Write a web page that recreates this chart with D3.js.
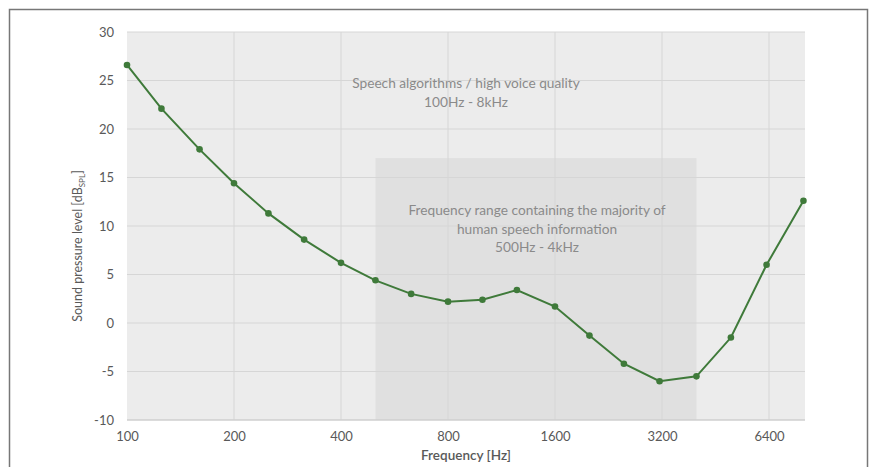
<!DOCTYPE html>
<html>
<head>
<meta charset="utf-8">
<script src="https://cdn.jsdelivr.net/npm/d3@7"></script>
<style>
  body { margin: 0; background: #fff; }
  text { font-family: Lato, "Open Sans", sans-serif; }
</style>
</head>
<body>
<script>
// third-octave frequencies and hearing threshold values
var freqs = [100, 125, 160, 200, 250, 315, 400, 500, 630, 800, 1000, 1250, 1600, 2000, 2500, 3150, 4000, 5000, 6300, 8000];
var levels = [26.6, 22.1, 17.9, 14.4, 11.3, 8.6, 6.2, 4.4, 3.0, 2.2, 2.4, 3.4, 1.7, -1.3, -4.2, -6.0, -5.5, -1.5, 6.0, 12.6];
var xTicks = [100, 200, 400, 800, 1600, 3200, 6400];
var yTicks = [-10, -5, 0, 5, 10, 15, 20, 25, 30];
var speechBand = [500, 4000, 17]; // from, to, top level

var width = 873, height = 467;
var svg = d3.select("body").append("svg")
  .attr("width", width)
  .attr("height", height);

// outer frame
svg.append("rect")
  .attr("x", 9.5).attr("y", 9.5)
  .attr("width", 858).attr("height", 470)
  .attr("fill", "none")
  .attr("stroke", "#777")
  .attr("stroke-width", 1.5);

var pLeft = 127, pRight = 805, pTop = 32, pBottom = 420;

var x = d3.scaleLog().base(2)
  .domain([100, 100 * Math.pow(2, (pRight - pLeft) / 107)])
  .range([pLeft, pRight]);
var y = d3.scaleLinear().domain([-10, 30]).range([pBottom, pTop]);

// plot background
svg.append("rect")
  .attr("x", pLeft).attr("y", pTop)
  .attr("width", pRight - pLeft).attr("height", pBottom - pTop)
  .attr("fill", "#ececec");

// speech information band
svg.append("rect")
  .attr("x", x(speechBand[0])).attr("y", y(speechBand[2]))
  .attr("width", x(speechBand[1]) - x(speechBand[0]))
  .attr("height", pBottom - y(speechBand[2]))
  .attr("fill", "#e0e0e0");

// gridlines
svg.append("g").selectAll("line")
  .data(yTicks.slice(1))
  .enter().append("line")
  .attr("x1", pLeft).attr("x2", pRight)
  .attr("y1", function(d) { return y(d); })
  .attr("y2", function(d) { return y(d); })
  .attr("stroke", "#d6d6d6").attr("stroke-width", 1);

svg.append("g").selectAll("line")
  .data(xTicks.slice(1))
  .enter().append("line")
  .attr("x1", function(d) { return x(d); })
  .attr("x2", function(d) { return x(d); })
  .attr("y1", pTop).attr("y2", pBottom)
  .attr("stroke", "#d6d6d6").attr("stroke-width", 1);

// bottom axis line
svg.append("line")
  .attr("x1", pLeft).attr("x2", pRight)
  .attr("y1", pBottom).attr("y2", pBottom)
  .attr("stroke", "#cfcfcf").attr("stroke-width", 1.5);

// axes
var xAxis = svg.append("g")
  .attr("transform", "translate(0," + pBottom + ")")
  .call(d3.axisBottom(x).tickValues(xTicks).tickSize(0).tickPadding(12).tickFormat(String));
var yAxis = svg.append("g")
  .attr("transform", "translate(" + pLeft + ",0)")
  .call(d3.axisLeft(y).tickValues(yTicks).tickSize(0).tickPadding(13).tickFormat(String));
[xAxis, yAxis].forEach(function(a) {
  a.select(".domain").remove();
  a.selectAll("text")
    .attr("fill", "#595959")
    .style("font-size", "13px")
    .style("font-family", "Lato, sans-serif");
});

// axis titles
svg.append("text")
  .attr("x", (pLeft + pRight) / 2).attr("y", 460)
  .attr("text-anchor", "middle")
  .attr("fill", "#595959")
  .style("font-size", "13.5px")
  .style("font-weight", 600)
  .text("Frequency [Hz]");

var yt = svg.append("text")
  .attr("transform", "translate(82,246) rotate(-90)")
  .attr("text-anchor", "middle")
  .attr("fill", "#595959")
  .style("font-size", "12.5px");
yt.append("tspan").text("Sound pressure level [dB");
yt.append("tspan").attr("dy", 3).style("font-size", "8px").text("SPL");
yt.append("tspan").attr("dy", -3).text("]");

// annotations
var notes = [
  { cx: 466, cy: 88, lines: ["Speech algorithms / high voice quality", "100Hz - 8kHz"] },
  { cx: 537, cy: 215, lines: ["Frequency range containing the majority of", "human speech information", "500Hz - 4kHz"] }
];
notes.forEach(function(n) {
  svg.append("g").selectAll("text")
    .data(n.lines)
    .enter().append("text")
    .attr("x", n.cx)
    .attr("y", function(d, i) { return n.cy + i * 18.5; })
    .attr("text-anchor", "middle")
    .attr("fill", "#8a8a8a")
    .style("font-size", "13.7px")
    .text(function(d) { return d; });
});

// threshold curve
var pts = freqs.map(function(f, i) { return [f, levels[i]]; });
var line = d3.line()
  .x(function(d) { return x(d[0]); })
  .y(function(d) { return y(d[1]); });

svg.append("path")
  .datum(pts)
  .attr("d", line)
  .attr("fill", "none")
  .attr("stroke", "#3f7a3a")
  .attr("stroke-width", 2);

svg.append("g").selectAll("circle")
  .data(pts)
  .enter().append("circle")
  .attr("cx", function(d) { return x(d[0]); })
  .attr("cy", function(d) { return y(d[1]); })
  .attr("r", 3.3)
  .attr("fill", "#3f7a3a");
</script>
</body>
</html>
